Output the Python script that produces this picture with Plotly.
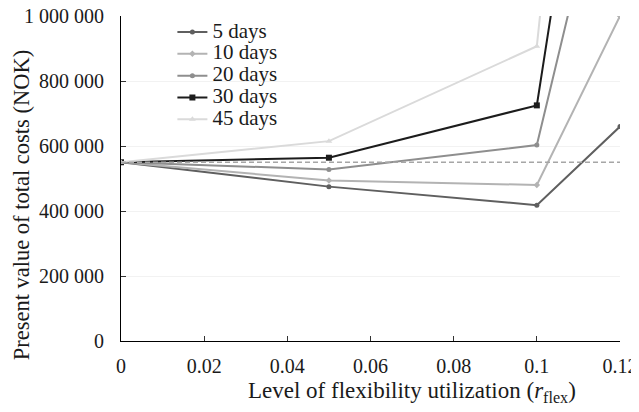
import plotly.graph_objects as go

x_vals = [0, 0.05, 0.1, 0.12]
series_names = ["5 days", "10 days", "20 days", "30 days", "45 days"]
days5 = [550000, 475000, 418000, 660000]
days10 = [550000, 494000, 480000, 1000000]
days20 = [550000, 528000, 603000, 1670000]
days30 = [550000, 564000, 725000, 2370000]
days45 = [550000, 615000, 907000, 3360000]
baseline = 550000

y_ticks = [0, 200000, 400000, 600000, 800000, 1000000]
x_ticks = [0, 0.02, 0.04, 0.06, 0.08, 0.1, 0.12]
x_tick_labels = ["0", "0.02", "0.04", "0.06", "0.08", "0.1", "0.12"]
x_title = "Level of flexibility utilization (<i>r</i><sub>flex</sub>)"
y_title = "Present value of total costs (NOK)"

colors = ["#5f5f5f", "#b3b3b3", "#8e8e8e", "#1c1c1c", "#dadada"]
symbols = ["circle", "diamond", "circle", "square", "triangle-up"]
msizes = [5, 5, 5, 6, 6]
all_series = [days5, days10, days20, days30, days45]

FONT = "Liberation Serif"

fig = go.Figure()
for name, ys, c, s, ms in zip(series_names, all_series, colors, symbols, msizes):
    fig.add_trace(go.Scatter(
        x=x_vals, y=ys, mode="lines+markers",
        name='<span style="font-size:21px">' + name + '</span>',
        line=dict(color=c, width=2),
        marker=dict(color=c, symbol=s, size=ms),
    ))

fig.add_shape(type="line", xref="paper", x0=0, x1=1, yref="y", y0=baseline, y1=baseline,
              line=dict(color="#a6a6a6", width=1.5, dash="5px,3px"))

# axis titles (placed off-centre as in the reference)
fig.add_annotation(text=x_title, xref="paper", yref="paper", x=0.583, y=-0.1555,
                   xanchor="center", yanchor="middle", showarrow=False,
                   font=dict(family=FONT, size=23, color="#1a1a1a"))
fig.add_annotation(text=y_title, xref="paper", yref="paper", x=-0.2, y=0.418,
                   xanchor="center", yanchor="middle", showarrow=False, textangle=-90,
                   font=dict(family=FONT, size=22.5, color="#1a1a1a"))

# the page body adds an 8px offset; the figure is sized so the page does not overflow vertically
fig.update_layout(
    width=631, height=396,
    margin=dict(l=113, r=19, t=7.5, b=62.5),
    paper_bgcolor="white", plot_bgcolor="white",
    font=dict(family=FONT, size=20, color="#1a1a1a"),
    separators=". ",
    showlegend=True,
    legend=dict(x=0.103, y=1.0, xanchor="left", yanchor="top",
                bgcolor="rgba(0,0,0,0)", font=dict(family=FONT, size=14.5),
                tracegroupgap=0, itemwidth=30),
    xaxis=dict(range=[0, 0.12], tickvals=x_ticks, ticktext=x_tick_labels,
               ticks="inside", ticklen=5, tickcolor="#333",
               showline=True, linecolor="black", linewidth=1.2,
               showgrid=False, zeroline=False, automargin=False,
               ticklabelstandoff=7, ticklabeloverflow="allow",
               tickfont=dict(family=FONT, size=20)),
    yaxis=dict(range=[0, 1000000], tickvals=y_ticks, tickformat=",d",
               ticks="inside", ticklen=5, tickcolor="#333",
               showline=True, linecolor="black", linewidth=1.2,
               showgrid=True, gridcolor="#f2f2f2", gridwidth=1, zeroline=False,
               automargin=False, ticklabelstandoff=12, ticklabeloverflow="allow",
               tickfont=dict(family=FONT, size=20)),
)

fig.write_html("out.html")
